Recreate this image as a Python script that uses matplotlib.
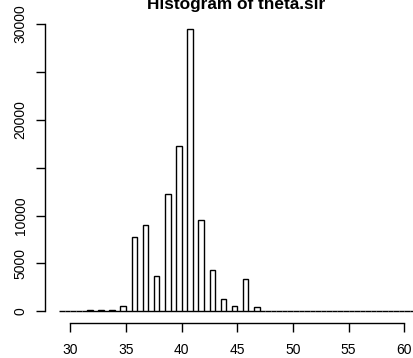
import numpy as np
import matplotlib
matplotlib.use("Agg")
import matplotlib.pyplot as plt

plt.rcParams['font.family'] = ['Liberation Sans', 'DejaVu Sans']

# histogram of theta.sir, breaks every 0.5 from 29 to 61
break_lo = 29.0
break_hi = 61.0
bin_width = 0.5
bin_left = [31.5, 32.5, 33.5, 34.5, 35.5, 36.5, 37.5, 38.5,
            39.5, 40.5, 41.5, 42.5, 43.5, 44.5, 45.5, 46.5]
counts = [150, 130, 150, 600, 7800, 9060, 3650, 12290,
          17290, 29420, 9520, 4340, 1290, 600, 3375, 460]
yticks = [0, 5000, 10000, 15000, 20000, 25000, 30000]
ylabels = ['0', '5000', '10000', '', '20000', '', '30000']
xticks = [30, 35, 40, 45, 50, 55, 60]

breaks = np.arange(break_lo, break_hi, bin_width)
heights = np.zeros(len(breaks))
for b, c in zip(bin_left, counts):
    heights[np.argmin(np.abs(breaks - b))] = c

W, H = 413, 358
fig = plt.figure(figsize=(W / 100, H / 100), dpi=100)
ax = fig.add_axes([45 / W, (H - 322.7) / H, 368 / W, (322.7 - 18) / H])

ax.bar(breaks, heights, width=bin_width, align='edge',
       facecolor='white', edgecolor='black', linewidth=1.0)

pad = 0.04 * (break_hi - break_lo)
ax.set_xlim(break_lo - pad, break_lo - pad + 368 / 11.13)
ymax = max(counts)
ax.set_ylim(-0.04 * ymax, 1.04 * ymax)

for s in ['top', 'right']:
    ax.spines[s].set_visible(False)
ax.spines['left'].set_bounds(0, 30000)
ax.spines['bottom'].set_bounds(30, 60)
ax.spines['left'].set_linewidth(1.0)
ax.spines['bottom'].set_linewidth(1.0)

ax.set_yticks(yticks)
ax.set_yticklabels(ylabels, rotation=90, va='center')
ax.set_xticks(xticks)
ax.set_xticklabels([str(t) for t in xticks])
ax.tick_params(axis='y', length=6.5, width=1.0, pad=6, labelsize=10)
ax.tick_params(axis='x', length=6.8, width=1.0, pad=7.5, labelsize=10)

fig.text(236 / W, 1 - 9.5 / H, 'Histogram of theta.sir', ha='center',
         va='baseline', fontsize=12.4, fontweight='bold')

fig.savefig('out.png', dpi=100)
